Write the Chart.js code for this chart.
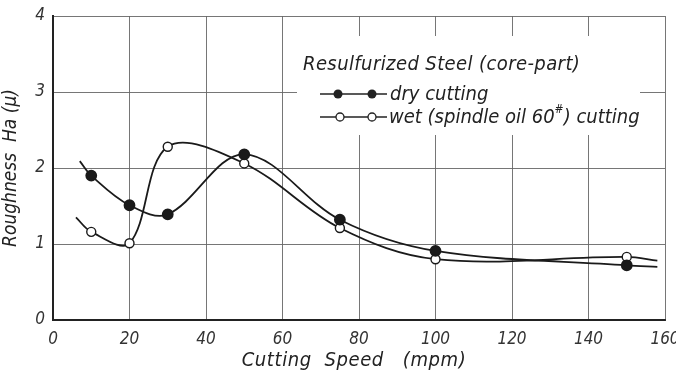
<!DOCTYPE html>
<html>
<head>
<meta charset="utf-8">
<script src="https://cdn.jsdelivr.net/npm/chart.js@4"></script>
<style>
  body { margin: 0; background: #fff; }
  #wrap { width: 676px; height: 377px; }
</style>
</head>
<body>
<div id="wrap"><canvas id="roughness"></canvas></div>
<script>
// cutting speed (mpm) - first/last entries are where the drawn curve starts/ends
var speed = [7, 10, 20, 30, 50, 75, 100, 150, 158];
var speedWet = [6, 10, 20, 30, 50, 75, 100, 150, 158];
var dry = [2.09, 1.90, 1.51, 1.39, 2.18, 1.32, 0.91, 0.72, 0.70];
var wet = [1.35, 1.16, 1.01, 2.28, 2.06, 1.21, 0.80, 0.83, 0.78];
var xTicks = [0, 20, 40, 60, 80, 100, 120, 140, 160];
var yTicks = [0, 1, 2, 3, 4];

var FONT = "'DejaVu Sans Condensed', 'DejaVu Sans', sans-serif";

function pts(xs, ys) {
	var out = [];
	for (var i = 0; i < xs.length; i++) out.push({x: xs[i], y: ys[i]});
	return out;
}
// no marker on the curve ends
function rad(r, n) {
	return function(ctx) { return (ctx.dataIndex == 0 || ctx.dataIndex == n - 1) ? 0 : r; };
}

var extras = {
	id: 'extras',
	beforeDatasetsDraw: function(chart) {
		var c = chart.ctx;
		// the legend sits on a blank patch of the grid
		c.save();
		c.fillStyle = '#fff';
		c.fillRect(297, 36, 343, 99);
		c.restore();
	},
	afterDraw: function(chart) {
		var c = chart.ctx;
		c.save();
		c.fillStyle = '#222';
		c.strokeStyle = '#222';
		c.textBaseline = 'alphabetic';
		c.font = 'italic 20px ' + FONT;
		c.letterSpacing = '0.4px';
		c.fillText('Resulfurized Steel (core-part)', 303, 70);

		// dry symbol
		c.lineWidth = 1.6;
		c.beginPath(); c.moveTo(320, 94); c.lineTo(387, 94); c.stroke();
		[338, 372].forEach(function(x) {
			c.beginPath(); c.arc(x, 94, 4.5, 0, Math.PI * 2); c.fill();
		});
		c.letterSpacing = '0px';
		c.fillText('dry cutting', 390, 100);

		// wet symbol
		c.beginPath(); c.moveTo(320, 117); c.lineTo(387, 117); c.stroke();
		[340, 372].forEach(function(x) {
			c.beginPath(); c.arc(x, 117, 4, 0, Math.PI * 2);
			c.fillStyle = '#fff'; c.fill();
			c.lineWidth = 1.3; c.stroke();
		});
		c.fillStyle = '#222';
		var t1 = 'wet (spindle oil 60';
		c.fillText(t1, 389, 123);
		var w1 = c.measureText(t1).width;
		c.font = 'italic 12px ' + FONT;
		c.fillText('#', 389 + w1, 113);
		var w2 = c.measureText('#').width;
		c.font = 'italic 20px ' + FONT;
		c.fillText(') cutting', 389 + w1 + w2, 123);

		// x axis title
		c.letterSpacing = '0.6px';
		c.textAlign = 'center';
		c.fillText('Cutting  Speed   (mpm)', 354, 366);
		c.restore();
	}
};

new Chart(document.getElementById('roughness'), {
	type: 'line',
	data: {
		datasets: [
			{
				label: 'dry cutting',
				data: pts(speed, dry),
				borderColor: '#1a1a1a',
				borderWidth: 1.8,
				backgroundColor: '#1a1a1a',
				pointBackgroundColor: '#1a1a1a',
				pointBorderColor: '#1a1a1a',
				pointRadius: rad(5, speed.length),
				tension: 0.35,
				fill: false
			},
			{
				label: 'wet (spindle oil 60#) cutting',
				data: pts(speedWet, wet),
				borderColor: '#1a1a1a',
				borderWidth: 1.8,
				backgroundColor: '#fff',
				pointBackgroundColor: '#fff',
				pointBorderColor: '#1a1a1a',
				pointBorderWidth: 1.4,
				pointRadius: rad(4.5, speedWet.length),
				tension: 0.35,
				fill: false
			}
		]
	},
	options: {
		responsive: true,
		maintainAspectRatio: false,
		animation: false,
		layout: { padding: { left: 0, right: 11, top: 16, bottom: 0 } },
		plugins: { legend: { display: false }, tooltip: { enabled: false } },
		scales: {
			x: {
				type: 'linear',
				min: 0, max: 160,
				afterBuildTicks: function(s) { s.ticks = xTicks.map(function(v) { return {value: v}; }); },
				afterFit: function(s) { s.height = 57; s.paddingLeft = 0; s.paddingRight = 0; },
				grid: { color: '#666', lineWidth: 0.9, drawTicks: false },
				border: { color: '#222', width: 2 },
				ticks: { padding: 9, color: '#333', font: { family: FONT, size: 17, style: 'italic' } }
			},
			y: {
				min: 0, max: 4,
				afterBuildTicks: function(s) { s.ticks = yTicks.map(function(v) { return {value: v}; }); },
				afterFit: function(s) { s.width = 53; s.paddingTop = 0; s.paddingBottom = 0; },
				grid: { color: '#666', lineWidth: 0.9, drawTicks: false },
				border: { color: '#222', width: 2 },
				title: {
					display: true,
					text: 'Roughness  Ha (\u03bc)',
					color: '#222',
					padding: 0,
					font: { family: FONT, size: 19, style: 'italic' }
				},
				ticks: { padding: 8, color: '#333', font: { family: FONT, size: 17, style: 'italic' } }
			}
		}
	},
	plugins: [extras]
});
</script>
</body>
</html>
